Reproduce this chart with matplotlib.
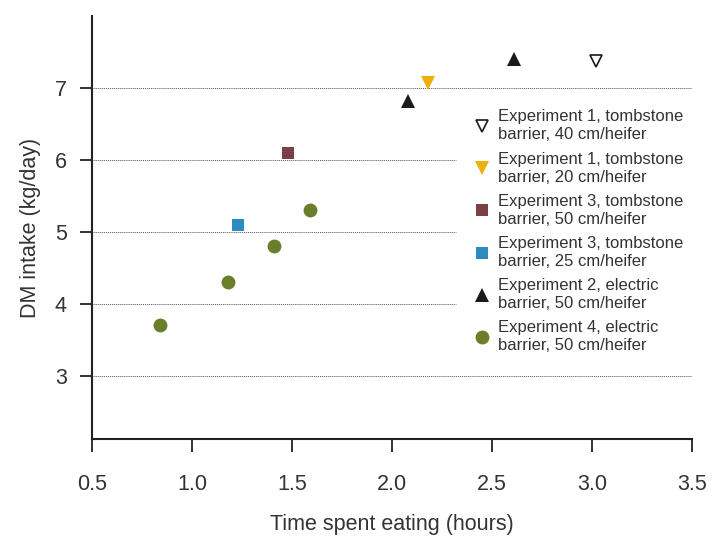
import matplotlib
matplotlib.use("Agg")
import matplotlib.pyplot as plt

plt.rcParams['font.family'] = ['Liberation Sans', 'DejaVu Sans']

# Data
series_labels = [
    "Experiment 1, tombstone\nbarrier, 40 cm/heifer",
    "Experiment 1, tombstone\nbarrier, 20 cm/heifer",
    "Experiment 3, tombstone\nbarrier, 50 cm/heifer",
    "Experiment 3, tombstone\nbarrier, 25 cm/heifer",
    "Experiment 2, electric\nbarrier, 50 cm/heifer",
    "Experiment 4, electric\nbarrier, 50 cm/heifer",
]
exp1_40_x = [3.02]
exp1_40_y = [7.38]
exp1_20_x = [2.18]
exp1_20_y = [7.07]
exp3_50_x = [1.48]
exp3_50_y = [6.10]
exp3_25_x = [1.23]
exp3_25_y = [5.10]
exp2_50_x = [2.08, 2.61]
exp2_50_y = [6.82, 7.40]
exp4_50_x = [0.84, 1.18, 1.41, 1.59]
exp4_50_y = [3.70, 4.30, 4.81, 5.30]

x_ticks = [0.5, 1.0, 1.5, 2.0, 2.5, 3.0, 3.5]
y_ticks = [3, 4, 5, 6, 7]

fig = plt.figure(figsize=(7.12, 5.37), dpi=100)
ax = fig.add_axes([0.129, 0.1825, 0.843, 0.7875])

# gridlines (dotted); the middle ones stop before the legend
for yv in y_ticks:
    xend = 3.5 if yv in (3, 7) else 2.32
    ax.plot([0.5, xend], [yv, yv], linestyle=(0, (1, 1)), color='#555555',
            linewidth=0.7, zorder=1)

ax.plot(exp1_40_x, exp1_40_y, linestyle='none', marker='v', markersize=9,
        markerfacecolor='white', markeredgecolor='#1a1a1a', markeredgewidth=1.2,
        label=series_labels[0], zorder=3)
ax.plot(exp1_20_x, exp1_20_y, linestyle='none', marker='v', markersize=10,
        color='#EBB00C', markeredgewidth=0, label=series_labels[1], zorder=3)
ax.plot(exp3_50_x, exp3_50_y, linestyle='none', marker='s', markersize=8.5,
        color='#7B3F44', markeredgewidth=0, label=series_labels[2], zorder=3)
ax.plot(exp3_25_x, exp3_25_y, linestyle='none', marker='s', markersize=8.5,
        color='#2C8BBF', markeredgewidth=0, label=series_labels[3], zorder=3)
ax.plot(exp2_50_x, exp2_50_y, linestyle='none', marker='^', markersize=10,
        color='#1a1a1a', markeredgewidth=0, label=series_labels[4], zorder=3)
ax.plot(exp4_50_x, exp4_50_y, linestyle='none', marker='o', markersize=10,
        color='#6B7F2A', markeredgewidth=0, label=series_labels[5], zorder=3)

ax.set_xlim(0.5, 3.5)
ax.set_ylim(2.12, 8.0)
ax.set_xticks(x_ticks)
ax.set_xticklabels([f"{v:.1f}" for v in x_ticks])
ax.set_yticks(y_ticks)
ax.set_yticklabels([str(v) for v in y_ticks])

for s in ['top', 'right']:
    ax.spines[s].set_visible(False)
for s in ['left', 'bottom']:
    ax.spines[s].set_linewidth(1.5)
    ax.spines[s].set_color('#222222')

ax.tick_params(axis='both', direction='out', length=9, width=1.3,
               color='#222222', labelsize=15.5, labelcolor='#333333')
ax.tick_params(axis='x', pad=16)
ax.tick_params(axis='y', pad=9)

ax.set_xlabel("Time spent eating (hours)", fontsize=15.5, color='#333333', labelpad=14)
ax.set_ylabel("DM intake (kg/day)", fontsize=15.5, color='#333333', labelpad=10)

leg = ax.legend(loc='upper left', bbox_to_anchor=(0.623, 0.795), frameon=False,
                fontsize=12, labelspacing=0.55, handletextpad=0.35,
                handlelength=1.2, borderaxespad=0, labelcolor='#333333')
for t in leg.get_texts():
    t.set_linespacing(1.25)

fig.savefig("out.png", dpi=100)
